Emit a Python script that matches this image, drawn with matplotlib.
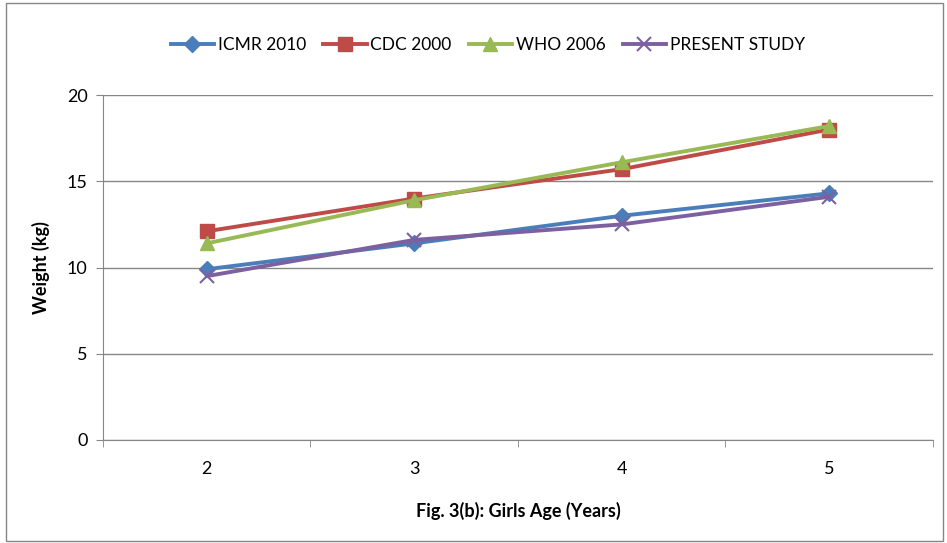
import matplotlib
matplotlib.use("Agg")
import matplotlib.pyplot as plt
from matplotlib.patches import Rectangle

plt.rcParams['font.family'] = ['Lato', 'DejaVu Sans']

# data
ages = ['2', '3', '4', '5']
icmr = [9.9, 11.4, 13.0, 14.3]
cdc = [12.1, 14.0, 15.7, 18.0]
who = [11.4, 13.9, 16.1, 18.2]
present = [9.5, 11.6, 12.5, 14.1]

x = list(range(1, len(ages) + 1))

fig = plt.figure(figsize=(9.47, 5.43), dpi=100)
ax = fig.add_axes([0.1088, 0.1897, 0.8762, 0.6353])

ax.plot(x, icmr, color='#4a7ebb', lw=2.8, marker='D', ms=8, label='ICMR 2010')
ax.plot(x, cdc, color='#be4b48', lw=2.8, marker='s', ms=10, label='CDC 2000')
ax.plot(x, who, color='#98b954', lw=2.8, marker='^', ms=10, label='WHO 2006')
ax.plot(x, present, color='#7d60a0', lw=2.8, marker='x', ms=10, mew=1.5,
        label='PRESENT STUDY')

ax.set_xlim(0.5, len(ages) + 0.5)
ax.set_ylim(0, 20)
ax.set_yticks([0, 5, 10, 15, 20])
ax.set_xticks(x)
ax.set_xticklabels(ages)
ax.set_xticks([i + 0.5 for i in range(len(ages) + 1)], minor=True)
ax.tick_params(axis='x', which='major', length=0, pad=15, labelsize=13)
ax.tick_params(axis='x', which='minor', length=5, color='#868686')
ax.tick_params(axis='y', length=5, color='#868686', labelsize=13, pad=6)

ax.grid(axis='y', color='#868686', lw=1)
ax.set_axisbelow(True)
for s in ['top', 'right']:
    ax.spines[s].set_visible(False)
for s in ['left', 'bottom']:
    ax.spines[s].set_color('#868686')

ax.set_ylabel('Weight (kg)', fontsize=13, fontweight='bold', labelpad=12)
ax.set_xlabel('Fig. 3(b): Girls Age (Years)', fontsize=13, fontweight='bold',
              labelpad=18)

fig.legend(loc='center', bbox_to_anchor=(0.515, 0.917), ncol=4, frameon=False,
           fontsize=12.5, handlelength=2.5, columnspacing=1.0, handletextpad=0.2)

fig.patches.append(Rectangle((0.006, 0.004), 0.99, 0.99, transform=fig.transFigure,
                             fill=False, edgecolor='#868686', lw=1))

plt.savefig('out.png', dpi=100)
